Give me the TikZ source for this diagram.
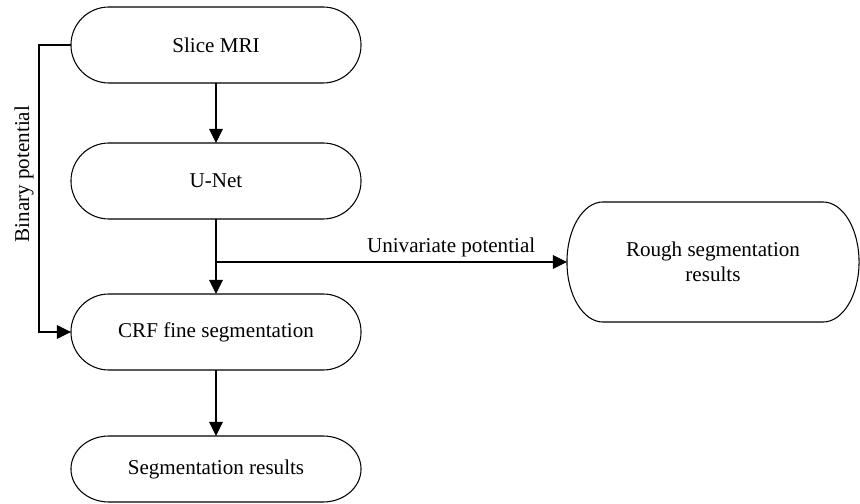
\documentclass[tikz,border=0pt]{standalone}
\usepackage{fontspec}
\setmainfont{Liberation Serif}
\usetikzlibrary{arrows.meta}

\newcommand{\pill}[3]{\draw ([xshift=#2]#1.north west) -- ([xshift=-#2]#1.north east)
	arc[start angle=90, end angle=-90, x radius=#2, y radius=#3]
	-- ([xshift=#2]#1.south west)
	arc[start angle=270, end angle=90, x radius=#2, y radius=#3] -- cycle;}

\begin{document}
\begin{tikzpicture}[x=0.025cm, y=-0.025cm, line width=0.75pt]
	\tikzstyle{box} = [minimum width=7.25cm, minimum height=1.9cm, outer sep=0pt, inner sep=0pt, align=center, font=\fontsize{15}{18}\selectfont]
	\tikzstyle{flow} = [-{Triangle[length=0.35cm, width=0.34cm]}]
	\tikzstyle{lbl} = [font=\fontsize{15}{18}\selectfont]
	\useasboundingbox (0,0) rectangle (860,504);
	\node[box] (slice) at (216, 45) {Slice MRI};
	\node[box] (unet) at (216, 181) {U-Net};
	\node[box] (crf) at (216, 332) {CRF fine segmentation};
	\node[box, minimum height=1.65cm] (seg) at (216, 469) {Segmentation results};
	\node[box, minimum width=7.3cm, minimum height=3cm] (rough) at (713, 262) {Rough segmentation\\results};
	\pill{slice}{0.95cm}{0.95cm}
	\pill{unet}{0.95cm}{0.95cm}
	\pill{crf}{0.95cm}{0.95cm}
	\pill{seg}{0.95cm}{0.825cm}
	\pill{rough}{0.9cm}{1.5cm}
	\coordinate (bp1) at (39, 45);
	\coordinate (bp2) at (39, 332);
	\coordinate (split) at (unet.south |- rough.west);
	\draw [flow] (slice)--(unet);
	\draw [flow] (unet)--(crf);
	\draw [flow] (crf)--(seg);
	\draw [flow] (split)-- node[lbl, above, pos=0.67] {Univariate potential} (rough.west);
	\draw [flow] (slice.west)--(bp1)-- node[lbl, rotate=90, anchor=south, pos=0.45] {Binary potential} (bp2)--(crf.west);
\end{tikzpicture}
\end{document}
